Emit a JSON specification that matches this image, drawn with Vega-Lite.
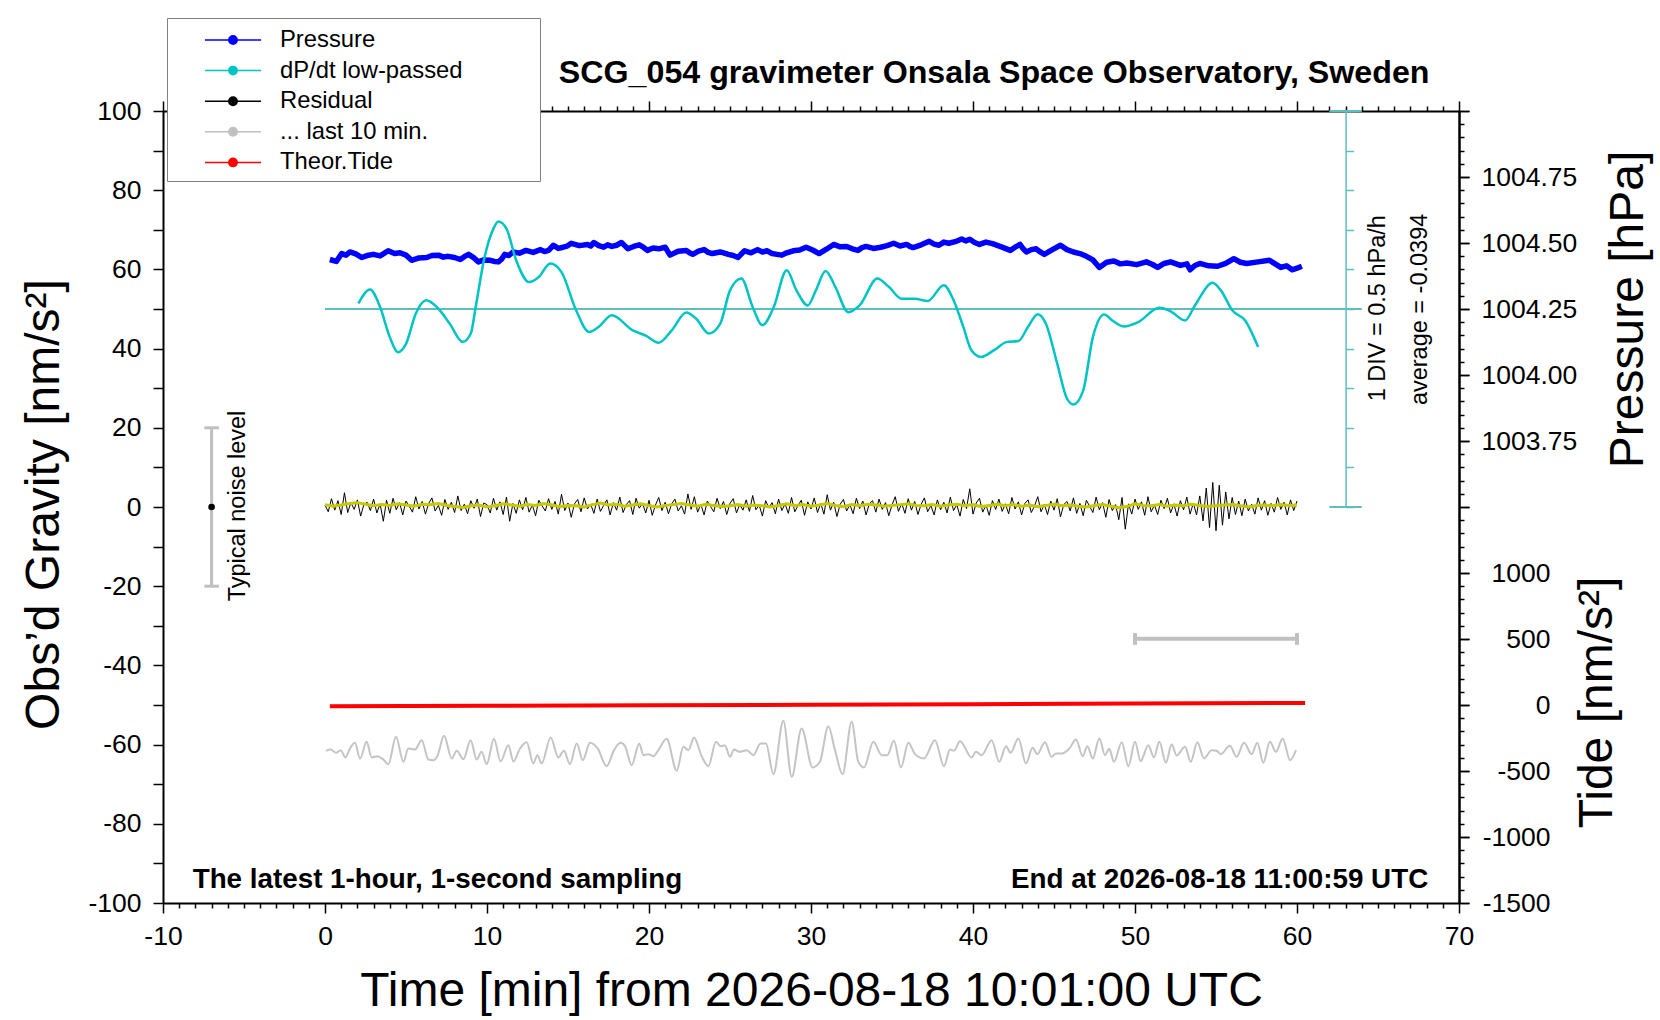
{
  "$schema": "https://vega.github.io/schema/vega-lite/v6.json",
  "width": 1296,
  "height": 792,
  "autosize": {"type": "none"},
  "padding": {"left": 163, "top": 111, "right": 201, "bottom": 117},
  "background": "#ffffff",
  "config": {
    "font": "Liberation Sans",
    "view": {"stroke": null},
    "axis": {
      "grid": false,
      "domainColor": "#000000",
      "domainWidth": 2,
      "tickColor": "#000000",
      "tickWidth": 1.5,
      "labelColor": "#000000",
      "labelFont": "Liberation Sans",
      "labelFontSize": 26.5,
      "labelOverlap": false,
      "labelFlush": false,
      "titleFont": "Liberation Sans",
      "titleFontSize": 48,
      "titleFontWeight": "normal",
      "titleColor": "#000000"
    },
    "text": {"font": "Liberation Sans", "color": "#000000"}
  },
  "datasets": {
    "res": [
      {"t":0,"r":0.5},{"t":0.2,"r":-1.2},{"t":0.4,"r":2.1},{"t":0.6,"r":-0.8},{"t":0.8,"r":1.6},{"t":1,"r":-1.9},{"t":1.2,"r":3.6},{"t":1.4,"r":-1.4},{"t":1.6,"r":1.1},{"t":1.8,"r":-0.6},
      {"t":2,"r":1.8},{"t":2.2,"r":-2.3},{"t":2.4,"r":0.6},{"t":2.6,"r":1.2},{"t":2.8,"r":-0.9},{"t":3,"r":2.0},{"t":3.2,"r":-1.5},{"t":3.4,"r":0.8},{"t":3.6,"r":-3.6},{"t":3.8,"r":1.7},
      {"t":4,"r":-1.6},{"t":4.2,"r":2.2},{"t":4.4,"r":-0.7},{"t":4.6,"r":1.1},{"t":4.8,"r":-2.0},{"t":5,"r":1.5},{"t":5.2,"r":0.2},{"t":5.4,"r":-1.3},{"t":5.6,"r":2.6},{"t":5.8,"r":-0.5},
      {"t":6,"r":1.4},{"t":6.2,"r":-1.8},{"t":6.4,"r":0.9},{"t":6.6,"r":2.3},{"t":6.8,"r":-1.0},{"t":7,"r":0.4},{"t":7.2,"r":-2.1},{"t":7.4,"r":1.9},{"t":7.6,"r":-0.6},{"t":7.8,"r":1.2},
      {"t":8,"r":-1.4},{"t":8.2,"r":2.8},{"t":8.4,"r":-0.9},{"t":8.6,"r":0.7},{"t":8.8,"r":-1.7},{"t":9,"r":1.6},{"t":9.2,"r":-0.3},{"t":9.4,"r":2.0},{"t":9.6,"r":-2.4},{"t":9.8,"r":1.0},
      {"t":10,"r":0.6},{"t":10.2,"r":-1.5},{"t":10.4,"r":2.2},{"t":10.6,"r":-0.8},{"t":10.8,"r":1.3},{"t":11,"r":-1.9},{"t":11.2,"r":2.5},{"t":11.4,"r":-3.6},{"t":11.6,"r":0.9},{"t":11.8,"r":-1.6},
      {"t":12,"r":1.8},{"t":12.2,"r":-0.7},{"t":12.4,"r":2.4},{"t":12.6,"r":-1.3},{"t":12.8,"r":0.5},{"t":13,"r":-2.2},{"t":13.2,"r":1.7},{"t":13.4,"r":0.3},{"t":13.6,"r":-1.0},{"t":13.8,"r":2.1},
      {"t":14,"r":-0.6},{"t":14.2,"r":1.4},{"t":14.4,"r":-1.8},{"t":14.6,"r":3.2},{"t":14.8,"r":-0.9},{"t":15,"r":1.0},{"t":15.2,"r":-2.6},{"t":15.4,"r":0.8},{"t":15.6,"r":1.9},{"t":15.8,"r":-1.2},
      {"t":16,"r":2.3},{"t":16.2,"r":-0.5},{"t":16.4,"r":0.7},{"t":16.6,"r":-1.6},{"t":16.8,"r":2.0},{"t":17,"r":-1.1},{"t":17.2,"r":0.4},{"t":17.4,"r":1.8},{"t":17.6,"r":-2.0},{"t":17.8,"r":1.1},
      {"t":18,"r":-0.8},{"t":18.2,"r":2.5},{"t":18.4,"r":-1.4},{"t":18.6,"r":0.6},{"t":18.8,"r":1.6},{"t":19,"r":-1.9},{"t":19.2,"r":2.2},{"t":19.4,"r":-0.3},{"t":19.6,"r":0.9},{"t":19.8,"r":-1.5},
      {"t":20,"r":1.7},{"t":20.2,"r":-2.1},{"t":20.4,"r":0.5},{"t":20.6,"r":2.4},{"t":20.8,"r":-0.9},{"t":21,"r":1.2},{"t":21.2,"r":-1.7},{"t":21.4,"r":0.8},{"t":21.6,"r":2.0},{"t":21.8,"r":-1.0},
      {"t":22,"r":0.3},{"t":22.2,"r":-1.8},{"t":22.4,"r":3.3},{"t":22.6,"r":-0.6},{"t":22.8,"r":2.6},{"t":23,"r":-1.3},{"t":23.2,"r":0.7},{"t":23.4,"r":-2.0},{"t":23.6,"r":1.5},{"t":23.8,"r":0.1},
      {"t":24,"r":-1.2},{"t":24.2,"r":2.2},{"t":24.4,"r":-0.4},{"t":24.6,"r":1.4},{"t":24.8,"r":-1.9},{"t":25,"r":0.9},{"t":25.2,"r":2.1},{"t":25.4,"r":-1.5},{"t":25.6,"r":0.6},{"t":25.8,"r":-0.8},
      {"t":26,"r":1.8},{"t":26.2,"r":-1.1},{"t":26.4,"r":2.9},{"t":26.6,"r":-0.7},{"t":26.8,"r":0.5},{"t":27,"r":-2.3},{"t":27.2,"r":1.6},{"t":27.4,"r":-0.2},{"t":27.6,"r":1.1},{"t":27.8,"r":-1.7},
      {"t":28,"r":2.0},{"t":28.2,"r":-0.9},{"t":28.4,"r":0.8},{"t":28.6,"r":-1.6},{"t":28.8,"r":2.4},{"t":29,"r":-1.2},{"t":29.2,"r":0.4},{"t":29.4,"r":1.7},{"t":29.6,"r":-2.1},{"t":29.8,"r":1.3},
      {"t":30,"r":-0.5},{"t":30.2,"r":2.3},{"t":30.4,"r":-1.4},{"t":30.6,"r":0.9},{"t":30.8,"r":-1.8},{"t":31,"r":3.1},{"t":31.2,"r":-0.8},{"t":31.4,"r":1.2},{"t":31.6,"r":-2.4},{"t":31.8,"r":0.7},
      {"t":32,"r":1.9},{"t":32.2,"r":-1.0},{"t":32.4,"r":0.6},{"t":32.6,"r":-1.7},{"t":32.8,"r":2.2},{"t":33,"r":-0.4},{"t":33.2,"r":1.5},{"t":33.4,"r":-2.0},{"t":33.6,"r":0.8},{"t":33.8,"r":1.6},
      {"t":34,"r":-1.3},{"t":34.2,"r":2.0},{"t":34.4,"r":-0.6},{"t":34.6,"r":1.1},{"t":34.8,"r":-2.2},{"t":35,"r":0.5},{"t":35.2,"r":2.6},{"t":35.4,"r":-1.1},{"t":35.6,"r":0.9},{"t":35.8,"r":-1.6},
      {"t":36,"r":2.1},{"t":36.2,"r":-0.8},{"t":36.4,"r":1.4},{"t":36.6,"r":-1.9},{"t":36.8,"r":0.7},{"t":37,"r":2.3},{"t":37.2,"r":-1.2},{"t":37.4,"r":0.4},{"t":37.6,"r":-2.0},{"t":37.8,"r":1.8},
      {"t":38,"r":-0.7},{"t":38.2,"r":1.2},{"t":38.4,"r":-1.5},{"t":38.6,"r":2.5},{"t":38.8,"r":-0.9},{"t":39,"r":0.6},{"t":39.2,"r":-2.3},{"t":39.4,"r":1.9},{"t":39.6,"r":-0.4},{"t":39.8,"r":4.6},
      {"t":40,"r":-1.8},{"t":40.2,"r":1.0},{"t":40.4,"r":2.2},{"t":40.6,"r":-1.3},{"t":40.8,"r":0.5},{"t":41,"r":-2.1},{"t":41.2,"r":1.6},{"t":41.4,"r":-0.6},{"t":41.6,"r":2.0},{"t":41.8,"r":-1.1},
      {"t":42,"r":0.8},{"t":42.2,"r":-1.7},{"t":42.4,"r":2.4},{"t":42.6,"r":-0.5},{"t":42.8,"r":1.3},{"t":43,"r":-2.0},{"t":43.2,"r":0.9},{"t":43.4,"r":1.8},{"t":43.6,"r":-1.4},{"t":43.8,"r":0.3},
      {"t":44,"r":2.6},{"t":44.2,"r":-1.2},{"t":44.4,"r":0.7},{"t":44.6,"r":-1.9},{"t":44.8,"r":1.5},{"t":45,"r":-0.8},{"t":45.2,"r":2.1},{"t":45.4,"r":-2.5},{"t":45.6,"r":0.6},{"t":45.8,"r":1.4},
      {"t":46,"r":-1.0},{"t":46.2,"r":2.3},{"t":46.4,"r":-1.6},{"t":46.6,"r":0.9},{"t":46.8,"r":-2.2},{"t":47,"r":1.7},{"t":47.2,"r":0.2},{"t":47.4,"r":-1.4},{"t":47.6,"r":2.5},{"t":47.8,"r":-0.7},
      {"t":48,"r":1.1},{"t":48.2,"r":-2.6},{"t":48.4,"r":1.9},{"t":48.6,"r":-0.9},{"t":48.8,"r":0.6},{"t":49,"r":-3.2},{"t":49.2,"r":2.4},{"t":49.4,"r":-5.6},{"t":49.6,"r":0.8},{"t":49.8,"r":-1.8},
      {"t":50,"r":2.0},{"t":50.2,"r":-0.6},{"t":50.4,"r":1.3},{"t":50.6,"r":-2.1},{"t":50.8,"r":2.6},{"t":51,"r":-1.2},{"t":51.2,"r":0.5},{"t":51.4,"r":-1.9},{"t":51.6,"r":1.7},{"t":51.8,"r":-0.4},
      {"t":52,"r":2.2},{"t":52.2,"r":-1.5},{"t":52.4,"r":0.8},{"t":52.6,"r":-2.3},{"t":52.8,"r":1.6},{"t":53,"r":-0.7},{"t":53.2,"r":2.5},{"t":53.4,"r":-1.8},{"t":53.6,"r":1.0},{"t":53.8,"r":-2.0},
      {"t":54,"r":2.8},{"t":54.2,"r":-3.5},{"t":54.4,"r":4.8},{"t":54.6,"r":-5.2},{"t":54.8,"r":6.2},{"t":55,"r":-6.0},{"t":55.2,"r":5.5},{"t":55.4,"r":-4.6},{"t":55.6,"r":3.8},{"t":55.8,"r":-3.0},
      {"t":56,"r":2.4},{"t":56.2,"r":-1.9},{"t":56.4,"r":1.5},{"t":56.6,"r":-2.2},{"t":56.8,"r":2.0},{"t":57,"r":-1.0},{"t":57.2,"r":0.7},{"t":57.4,"r":-1.8},{"t":57.6,"r":2.3},{"t":57.8,"r":-0.8},
      {"t":58,"r":1.6},{"t":58.2,"r":-2.1},{"t":58.4,"r":0.9},{"t":58.6,"r":-1.3},{"t":58.8,"r":2.4},{"t":59,"r":-0.6},{"t":59.2,"r":1.2},{"t":59.4,"r":-2.0},{"t":59.6,"r":1.8},{"t":59.8,"r":-0.9},
      {"t":60,"r":1.5}
    ],
    "smooth": [
      {"t":0,"s":0.6},{"t":0.5,"s":0.2},{"t":1,"s":0.5},{"t":1.5,"s":0.9},{"t":2,"s":1.1},{"t":2.5,"s":0.7},{"t":3,"s":0.3},{"t":3.5,"s":0.6},{"t":4,"s":0.4},{"t":4.5,"s":0.8},
      {"t":5,"s":0.5},{"t":5.5,"s":0.2},{"t":6,"s":0.7},{"t":6.5,"s":0.6},{"t":7,"s":0.9},{"t":7.5,"s":0.4},{"t":8,"s":0.1},{"t":8.5,"s":-0.1},{"t":9,"s":0.3},{"t":9.5,"s":0.5},
      {"t":10,"s":0.0},{"t":10.5,"s":0.3},{"t":11,"s":0.8},{"t":11.5,"s":0.5},{"t":12,"s":0.2},{"t":12.5,"s":0.6},{"t":13,"s":0.4},{"t":13.5,"s":0.9},{"t":14,"s":0.5},{"t":14.5,"s":0.1},
      {"t":15,"s":0.4},{"t":15.5,"s":0.3},{"t":16,"s":0.0},{"t":16.5,"s":0.6},{"t":17,"s":1.0},{"t":17.5,"s":0.5},{"t":18,"s":0.7},{"t":18.5,"s":0.2},{"t":19,"s":0.5},{"t":19.5,"s":0.8},
      {"t":20,"s":0.3},{"t":20.5,"s":0.0},{"t":21,"s":0.4},{"t":21.5,"s":0.6},{"t":22,"s":0.9},{"t":22.5,"s":0.5},{"t":23,"s":0.2},{"t":23.5,"s":0.7},{"t":24,"s":0.4},{"t":24.5,"s":0.1},
      {"t":25,"s":0.3},{"t":25.5,"s":0.6},{"t":26,"s":0.2},{"t":26.5,"s":0.5},{"t":27,"s":0.3},{"t":27.5,"s":0.0},{"t":28,"s":0.4},{"t":28.5,"s":0.8},{"t":29,"s":0.3},{"t":29.5,"s":0.6},
      {"t":30,"s":0.2},{"t":30.5,"s":0.5},{"t":31,"s":0.9},{"t":31.5,"s":0.4},{"t":32,"s":0.1},{"t":32.5,"s":0.6},{"t":33,"s":0.3},{"t":33.5,"s":0.7},{"t":34,"s":0.5},{"t":34.5,"s":0.2},
      {"t":35,"s":0.4},{"t":35.5,"s":0.6},{"t":36,"s":0.8},{"t":36.5,"s":0.4},{"t":37,"s":0.3},{"t":37.5,"s":0.6},{"t":38,"s":0.2},{"t":38.5,"s":0.5},{"t":39,"s":0.7},{"t":39.5,"s":0.3},
      {"t":40,"s":0.6},{"t":40.5,"s":0.1},{"t":41,"s":0.4},{"t":41.5,"s":0.7},{"t":42,"s":0.3},{"t":42.5,"s":0.6},{"t":43,"s":0.2},{"t":43.5,"s":0.5},{"t":44,"s":0.1},{"t":44.5,"s":0.4},
      {"t":45,"s":0.7},{"t":45.5,"s":0.3},{"t":46,"s":0.5},{"t":46.5,"s":0.2},{"t":47,"s":0.0},{"t":47.5,"s":0.4},{"t":48,"s":0.6},{"t":48.5,"s":0.2},{"t":49,"s":-0.2},{"t":49.5,"s":0.1},
      {"t":50,"s":0.8},{"t":50.5,"s":0.4},{"t":51,"s":0.3},{"t":51.5,"s":0.6},{"t":52,"s":0.2},{"t":52.5,"s":0.5},{"t":53,"s":0.3},{"t":53.5,"s":0.7},{"t":54,"s":0.4},{"t":54.5,"s":0.1},
      {"t":55,"s":0.3},{"t":55.5,"s":0.5},{"t":56,"s":0.6},{"t":56.5,"s":0.3},{"t":57,"s":0.0},{"t":57.5,"s":0.4},{"t":58,"s":0.5},{"t":58.5,"s":0.3},{"t":59,"s":0.6},{"t":59.5,"s":0.4},
      {"t":60,"s":0.5}
    ],
    "hp": [
      {"t":0.06,"g":-61.57},{"t":0.35,"g":-61.23},{"t":0.68,"g":-62.07},{"t":0.97,"g":-61.4},{"t":1.26,"g":-63.25},{"t":1.54,"g":-60.98},{"t":1.85,"g":-59.55},{"t":2.16,"g":-63.51},{"t":2.57,"g":-59.29},{"t":2.88,"g":-63.25},
      {"t":3.23,"g":-62.92},{"t":3.6,"g":-63.76},{"t":3.91,"g":-64.94},{"t":4.38,"g":-58.03},{"t":4.84,"g":-64.35},{"t":5.14,"g":-60.98},{"t":5.56,"g":-61.23},{"t":5.97,"g":-58.87},{"t":6.38,"g":-63.76},{"t":6.69,"g":-63.93},
      {"t":6.93,"g":-62.92},{"t":7.35,"g":-57.78},{"t":7.82,"g":-63.51},{"t":8.13,"g":-61.57},{"t":8.54,"g":-63.67},{"t":8.99,"g":-58.87},{"t":9.36,"g":-63.76},{"t":9.67,"g":-61.82},{"t":9.98,"g":-64.94},{"t":10.43,"g":-58.54},
      {"t":10.84,"g":-64.26},{"t":11.32,"g":-60.14},{"t":11.63,"g":-64.26},{"t":12.04,"g":-60.98},{"t":12.45,"g":-59.38},{"t":12.86,"g":-64.77},{"t":13.11,"g":-62.66},{"t":13.37,"g":-64.77},{"t":13.93,"g":-58.2},{"t":14.4,"g":-63.25},
      {"t":14.75,"g":-61.57},{"t":15.12,"g":-64.94},{"t":15.54,"g":-59.72},{"t":15.91,"g":-63.93},{"t":16.36,"g":-59.55},{"t":16.83,"g":-60.98},{"t":17.39,"g":-65.44},{"t":17.84,"g":-61.4},{"t":18.25,"g":-59.55},{"t":18.52,"g":-60.39},
      {"t":18.93,"g":-65.19},{"t":19.4,"g":-59.72},{"t":19.65,"g":-62.66},{"t":19.96,"g":-62.41},{"t":20.27,"g":-62.92},{"t":20.58,"g":-61.4},{"t":21.09,"g":-58.54},{"t":21.71,"g":-66.62},{"t":22.12,"g":-60.56},{"t":22.43,"g":-61.4},
      {"t":22.78,"g":-58.2},{"t":23.25,"g":-62.92},{"t":23.66,"g":-65.44},{"t":24.14,"g":-59.29},{"t":24.42,"g":-60.39},{"t":24.69,"g":-60.22},{"t":25.0,"g":-63.08},{"t":25.25,"g":-61.23},{"t":25.58,"g":-61.82},{"t":26.03,"g":-61.4},
      {"t":26.44,"g":-62.66},{"t":26.89,"g":-59.72},{"t":27.22,"g":-59.72},{"t":27.68,"g":-67.46},{"t":28.29,"g":-53.99},{"t":28.81,"g":-68.14},{"t":29.42,"g":-55.93},{"t":30.1,"g":-65.78},{"t":30.55,"g":-64.35},{"t":31.07,"g":-55.34},
      {"t":31.48,"g":-61.4},{"t":31.95,"g":-67.46},{"t":32.51,"g":-54.24},{"t":32.92,"g":-64.35},{"t":33.27,"g":-65.78},{"t":33.85,"g":-59.29},{"t":34.36,"g":-62.66},{"t":34.71,"g":-62.66},{"t":35.12,"g":-59.04},{"t":35.55,"g":-65.78},
      {"t":36.01,"g":-59.55},{"t":36.42,"g":-62.41},{"t":36.97,"g":-63.51},{"t":37.65,"g":-58.87},{"t":38.21,"g":-65.44},{"t":38.58,"g":-61.23},{"t":38.83,"g":-61.57},{"t":39.2,"g":-59.13},{"t":39.92,"g":-63.25},{"t":40.18,"g":-61.82},
      {"t":40.53,"g":-62.66},{"t":41.15,"g":-58.87},{"t":41.62,"g":-64.35},{"t":42.04,"g":-60.39},{"t":42.32,"g":-62.07},{"t":42.8,"g":-58.45},{"t":43.27,"g":-64.77},{"t":43.68,"g":-60.81},{"t":43.97,"g":-62.41},{"t":44.44,"g":-59.38},
      {"t":44.85,"g":-63.08},{"t":45.12,"g":-62.24},{"t":45.47,"g":-62.24},{"t":45.95,"g":-60.98},{"t":46.36,"g":-58.71},{"t":46.77,"g":-62.92},{"t":47.06,"g":-60.39},{"t":47.39,"g":-63.51},{"t":47.8,"g":-58.45},{"t":48.15,"g":-62.66},
      {"t":48.41,"g":-61.06},{"t":48.7,"g":-64.35},{"t":49.18,"g":-59.38},{"t":49.59,"g":-65.44},{"t":50.0,"g":-59.29},{"t":50.35,"g":-64.18},{"t":50.82,"g":-60.14},{"t":51.17,"g":-63.25},{"t":51.5,"g":-59.29},{"t":51.91,"g":-64.6},
      {"t":52.26,"g":-59.88},{"t":52.57,"g":-62.75},{"t":53.09,"g":-60.56},{"t":53.44,"g":-64.35},{"t":53.85,"g":-59.38},{"t":54.26,"g":-63.51},{"t":54.73,"g":-61.4},{"t":55.04,"g":-61.57},{"t":55.29,"g":-62.41},{"t":55.86,"g":-60.31},
      {"t":56.27,"g":-63.08},{"t":56.73,"g":-59.55},{"t":57.2,"g":-62.41},{"t":57.55,"g":-59.55},{"t":57.92,"g":-64.6},{"t":58.33,"g":-59.29},{"t":58.7,"g":-61.82},{"t":59.12,"g":-58.45},{"t":59.57,"g":-63.93},{"t":59.94,"g":-61.4}
    ],
    "pres": [
      {"t":0.3,"p":1004.4375},{"t":0.7,"p":1004.43},{"t":1.03,"p":1004.46},{"t":1.3,"p":1004.454},{"t":1.54,"p":1004.466},{"t":1.9,"p":1004.4585},{"t":2.26,"p":1004.445},{"t":2.6,"p":1004.4525},{"t":2.98,"p":1004.457},{"t":3.4,"p":1004.451},
      {"t":3.9,"p":1004.4705},{"t":4.3,"p":1004.46},{"t":4.63,"p":1004.463},{"t":5.0,"p":1004.454},{"t":5.35,"p":1004.4345},{"t":5.8,"p":1004.4435},{"t":6.28,"p":1004.445},{"t":6.6,"p":1004.4525},{"t":7.0,"p":1004.454},{"t":7.3,"p":1004.4465},
      {"t":7.6,"p":1004.4495},{"t":8.0,"p":1004.445},{"t":8.35,"p":1004.4375},{"t":8.6,"p":1004.448},{"t":8.86,"p":1004.457},{"t":9.2,"p":1004.4435},{"t":9.47,"p":1004.4285},{"t":9.8,"p":1004.436},{"t":10.2,"p":1004.4345},{"t":10.45,"p":1004.43},
      {"t":10.7,"p":1004.4285},{"t":10.9,"p":1004.439},{"t":11.1,"p":1004.457},{"t":11.35,"p":1004.4525},{"t":11.6,"p":1004.466},{"t":12.0,"p":1004.4615},{"t":12.4,"p":1004.472},{"t":12.85,"p":1004.4645},{"t":13.3,"p":1004.475},{"t":13.55,"p":1004.4675},
      {"t":13.8,"p":1004.472},{"t":14.1,"p":1004.4915},{"t":14.4,"p":1004.4795},{"t":14.7,"p":1004.484},{"t":14.95,"p":1004.4885},{"t":15.2,"p":1004.499},{"t":15.7,"p":1004.49},{"t":16.2,"p":1004.4945},{"t":16.4,"p":1004.4885},{"t":16.6,"p":1004.502},
      {"t":16.9,"p":1004.49},{"t":17.2,"p":1004.484},{"t":17.45,"p":1004.493},{"t":17.7,"p":1004.487},{"t":18.0,"p":1004.4915},{"t":18.3,"p":1004.502},{"t":18.5,"p":1004.49},{"t":18.7,"p":1004.478},{"t":19.05,"p":1004.487},{"t":19.4,"p":1004.493},
      {"t":19.65,"p":1004.484},{"t":19.9,"p":1004.472},{"t":20.25,"p":1004.481},{"t":20.6,"p":1004.478},{"t":21.0,"p":1004.484},{"t":21.15,"p":1004.469},{"t":21.3,"p":1004.454},{"t":21.8,"p":1004.469},{"t":22.3,"p":1004.472},{"t":22.5,"p":1004.463},
      {"t":22.7,"p":1004.457},{"t":23.05,"p":1004.469},{"t":23.4,"p":1004.475},{"t":23.65,"p":1004.4645},{"t":23.9,"p":1004.46},{"t":24.4,"p":1004.466},{"t":24.9,"p":1004.457},{"t":25.2,"p":1004.4525},{"t":25.5,"p":1004.445},{"t":25.7,"p":1004.4585},
      {"t":25.9,"p":1004.4705},{"t":26.3,"p":1004.463},{"t":26.7,"p":1004.475},{"t":27.0,"p":1004.466},{"t":27.3,"p":1004.4705},{"t":27.6,"p":1004.46},{"t":27.9,"p":1004.457},{"t":28.2,"p":1004.454},{"t":28.5,"p":1004.463},{"t":28.9,"p":1004.4705},
      {"t":29.3,"p":1004.4735},{"t":29.7,"p":1004.484},{"t":30.1,"p":1004.4735},{"t":30.5,"p":1004.46},{"t":30.95,"p":1004.4765},{"t":31.4,"p":1004.4945},{"t":31.8,"p":1004.4855},{"t":32.2,"p":1004.487},{"t":32.55,"p":1004.478},{"t":32.9,"p":1004.472},
      {"t":33.15,"p":1004.4825},{"t":33.4,"p":1004.487},{"t":33.85,"p":1004.4795},{"t":34.3,"p":1004.484},{"t":34.7,"p":1004.49},{"t":35.1,"p":1004.499},{"t":35.5,"p":1004.4885},{"t":35.9,"p":1004.4945},{"t":36.1,"p":1004.487},{"t":36.3,"p":1004.4825},
      {"t":36.8,"p":1004.493},{"t":37.3,"p":1004.5065},{"t":37.6,"p":1004.496},{"t":37.9,"p":1004.4915},{"t":38.2,"p":1004.5035},{"t":38.5,"p":1004.499},{"t":38.9,"p":1004.505},{"t":39.3,"p":1004.5155},{"t":39.55,"p":1004.508},{"t":39.8,"p":1004.514},
      {"t":40.1,"p":1004.502},{"t":40.4,"p":1004.4945},{"t":40.8,"p":1004.5035},{"t":41.2,"p":1004.4975},{"t":41.75,"p":1004.4855},{"t":42.3,"p":1004.472},{"t":42.6,"p":1004.484},{"t":42.9,"p":1004.4945},{"t":43.1,"p":1004.478},{"t":43.3,"p":1004.466},
      {"t":43.6,"p":1004.475},{"t":43.9,"p":1004.478},{"t":44.15,"p":1004.466},{"t":44.4,"p":1004.457},{"t":44.9,"p":1004.475},{"t":45.4,"p":1004.4915},{"t":45.8,"p":1004.475},{"t":46.2,"p":1004.466},{"t":46.6,"p":1004.46},{"t":47.0,"p":1004.4495},
      {"t":47.4,"p":1004.436},{"t":47.8,"p":1004.4075},{"t":48.25,"p":1004.427},{"t":48.7,"p":1004.4315},{"t":49.1,"p":1004.421},{"t":49.5,"p":1004.424},{"t":50.1,"p":1004.418},{"t":50.7,"p":1004.4285},{"t":51.05,"p":1004.4195},{"t":51.4,"p":1004.4075},
      {"t":51.8,"p":1004.4225},{"t":52.2,"p":1004.4285},{"t":52.8,"p":1004.415},{"t":53.2,"p":1004.421},{"t":53.4,"p":1004.3985},{"t":53.7,"p":1004.415},{"t":54.0,"p":1004.4225},{"t":54.55,"p":1004.4135},{"t":55.1,"p":1004.412},{"t":55.6,"p":1004.4225},
      {"t":56.1,"p":1004.4405},{"t":56.5,"p":1004.427},{"t":56.9,"p":1004.4225},{"t":57.6,"p":1004.4285},{"t":58.3,"p":1004.4345},{"t":58.65,"p":1004.421},{"t":59.0,"p":1004.4075},{"t":59.35,"p":1004.4135},{"t":59.7,"p":1004.3985},{"t":60.0,"p":1004.4045},
      {"t":60.3,"p":1004.412}
    ],
    "dpdt": [
      {"t":2.06,"d":0.07},{"t":2.78,"d":0.245},{"t":3.4,"d":0.025},{"t":4.0,"d":-0.355},{"t":4.5,"d":-0.545},{"t":5.0,"d":-0.44},{"t":5.6,"d":-0.06},{"t":6.25,"d":0.11},{"t":6.9,"d":0.025},{"t":7.7,"d":-0.185},
      {"t":8.5,"d":-0.415},{"t":9.0,"d":-0.31},{"t":9.3,"d":0.025},{"t":9.85,"d":0.655},{"t":10.4,"d":1.015},{"t":10.7,"d":1.105},{"t":11.2,"d":1.015},{"t":11.8,"d":0.615},{"t":12.6,"d":0.34},{"t":13.2,"d":0.405},
      {"t":13.9,"d":0.575},{"t":14.6,"d":0.465},{"t":15.5,"d":-0.015},{"t":16.3,"d":-0.29},{"t":16.9,"d":-0.225},{"t":17.7,"d":-0.08},{"t":19.0,"d":-0.27},{"t":19.8,"d":-0.335},{"t":20.6,"d":-0.425},{"t":21.4,"d":-0.27},
      {"t":22.3,"d":-0.045},{"t":22.9,"d":-0.12},{"t":23.7,"d":-0.31},{"t":24.4,"d":-0.185},{"t":25.0,"d":0.235},{"t":25.7,"d":0.385},{"t":26.4,"d":0.025},{"t":27.0,"d":-0.205},{"t":27.7,"d":0.025},{"t":28.5,"d":0.49},
      {"t":29.1,"d":0.235},{"t":29.8,"d":0.045},{"t":30.3,"d":0.235},{"t":30.9,"d":0.48},{"t":31.5,"d":0.28},{"t":32.3,"d":-0.04},{"t":33.0,"d":0.045},{"t":34.1,"d":0.385},{"t":34.8,"d":0.28},{"t":35.6,"d":0.13},
      {"t":36.4,"d":0.13},{"t":37.2,"d":0.1},{"t":38.2,"d":0.3},{"t":38.8,"d":0.11},{"t":39.4,"d":-0.225},{"t":39.9,"d":-0.52},{"t":40.5,"d":-0.605},{"t":41.3,"d":-0.52},{"t":42.1,"d":-0.415},{"t":42.8,"d":-0.405},
      {"t":43.4,"d":-0.225},{"t":44.0,"d":-0.065},{"t":44.5,"d":-0.185},{"t":45.2,"d":-0.69},{"t":45.8,"d":-1.13},{"t":46.2,"d":-1.205},{"t":46.8,"d":-1.03},{"t":47.4,"d":-0.355},{"t":48.1,"d":-0.07},{"t":48.6,"d":-0.145},
      {"t":49.3,"d":-0.22},{"t":50.2,"d":-0.165},{"t":51.5,"d":0.015},{"t":52.2,"d":-0.03},{"t":53.1,"d":-0.145},{"t":53.7,"d":0.045},{"t":54.8,"d":0.33},{"t":55.3,"d":0.235},{"t":56.0,"d":-0.015},{"t":56.8,"d":-0.145},
      {"t":57.6,"d":-0.48}
    ],
    "tide": [
      {"t":0.3,"tide":-10},{"t":10,"tide":-6},{"t":20,"tide":-2},{"t":30,"tide":2},{"t":40,"tide":6},{"t":50,"tide":11},{"t":60.5,"tide":16}
    ]
  },
  "layer": [
    {
      "data": {"name": "hp"},
      "mark": {"type": "line", "color": "#c4c4c4", "strokeWidth": 2, "interpolate": "monotone"},
      "encoding": {
        "x": {"field": "t", "type": "quantitative", "scale": {"domain": [-10, 70]}, "axis": null},
        "y": {"field": "g", "type": "quantitative", "scale": {"domain": [-100, 100]}, "axis": null}
      }
    },
    {
      "data": {"name": "res"},
      "mark": {"type": "line", "strokeWidth": 1},
      "encoding": {
        "x": {
          "field": "t", "type": "quantitative", "scale": {"domain": [-10, 70]},
          "axis": {
            "orient": "bottom",
            "values": [-10,-9,-8,-7,-6,-5,-4,-3,-2,-1,0,1,2,3,4,5,6,7,8,9,10,11,12,13,14,15,16,17,18,19,20,21,22,23,24,25,26,27,28,29,30,31,32,33,34,35,36,37,38,39,40,41,42,43,44,45,46,47,48,49,50,51,52,53,54,55,56,57,58,59,60,61,62,63,64,65,66,67,68,69,70],
            "tickSize": {"condition": {"test": "datum.value % 10 === 0", "value": 10}, "value": 5},
            "labelExpr": "datum.value % 10 === 0 ? '' + datum.value : ''",
            "labelPadding": 10,
            "title": "Time [min] from 2026-08-18 10:01:00 UTC",
            "titleY": 88,
            "titleBaseline": "middle"
          }
        },
        "y": {
          "field": "r", "type": "quantitative", "scale": {"domain": [-100, 100]},
          "axis": {
            "orient": "left",
            "values": [-100,-90,-80,-70,-60,-50,-40,-30,-20,-10,0,10,20,30,40,50,60,70,80,90,100],
            "tickSize": 10,
            "labelPadding": 12,
            "labelExpr": "datum.value % 20 === 0 ? '' + datum.value : ''",
            "title": "Obs’d Gravity [nm/s²]",
            "titleAngle": 270,
            "titleX": -119,
            "titleY": 393,
            "titleAlign": "center",
            "titleBaseline": "middle"
          }
        },
        "color": {
          "datum": "Residual",
          "type": "nominal",
          "scale": {
            "domain": ["Pressure", "dP/dt low-passed", "Residual", "... last 10 min.", "Theor.Tide"],
            "range": ["#0000ff", "#00c4c4", "#000000", "#c0c0c0", "#ff0000"]
          },
          "legend": {
            "orient": "none",
            "legendX": 4,
            "legendY": -93,
            "title": "xxxxxx",
            "titleOrient": "right",
            "titleOpacity": 0,
            "titleFontSize": 19.5,
            "titlePadding": 5,
            "padding": 6,
            "fillColor": "#ffffff",
            "strokeColor": "#808080",
            "symbolType": "M-1.87,0H1.87M0.28,0A0.28,0.28,0,1,1,-0.28,0A0.28,0.28,0,1,1,0.28,0M0.18,0A0.18,0.18,0,1,1,-0.18,0A0.18,0.18,0,1,1,0.18,0M0.08,0A0.08,0.08,0,1,1,-0.08,0A0.08,0.08,0,1,1,0.08,0",
            "symbolSize": 900,
            "symbolStrokeWidth": 1.5,
            "symbolOffset": 44,
            "labelOffset": 31,
            "rowPadding": 2.6,
            "labelFont": "Liberation Sans",
            "labelFontSize": 23.8,
            "labelColor": "#000000",
            "labelLimit": 500
          }
        }
      }
    },
    {
      "data": {"name": "smooth"},
      "mark": {"type": "line", "color": "#c8c800", "strokeWidth": 3},
      "encoding": {
        "x": {"field": "t", "type": "quantitative", "scale": {"domain": [-10, 70]}, "axis": null},
        "y": {"field": "s", "type": "quantitative", "scale": {"domain": [-100, 100]}, "axis": null}
      }
    },
    {
      "data": {"values": [{}]},
      "mark": {"type": "rule", "color": "#c0c0c0", "strokeWidth": 3},
      "encoding": {
        "x": {"datum": -7, "type": "quantitative", "scale": {"domain": [-10, 70]}, "axis": null},
        "y": {"datum": -20, "type": "quantitative", "scale": {"domain": [-100, 100]}, "axis": null},
        "y2": {"datum": 20}
      }
    },
    {
      "data": {"values": [{}]},
      "mark": {"type": "rule", "color": "#c0c0c0", "strokeWidth": 3},
      "encoding": {
        "x": {"datum": -7.45, "type": "quantitative", "scale": {"domain": [-10, 70]}, "axis": null},
        "x2": {"datum": -6.55},
        "y": {"datum": 20, "type": "quantitative", "scale": {"domain": [-100, 100]}, "axis": null}
      }
    },
    {
      "data": {"values": [{}]},
      "mark": {"type": "rule", "color": "#c0c0c0", "strokeWidth": 3},
      "encoding": {
        "x": {"datum": -7.45, "type": "quantitative", "scale": {"domain": [-10, 70]}, "axis": null},
        "x2": {"datum": -6.55},
        "y": {"datum": -20, "type": "quantitative", "scale": {"domain": [-100, 100]}, "axis": null}
      }
    },
    {
      "data": {"values": [{}]},
      "mark": {"type": "point", "filled": true, "color": "#000000", "size": 45, "opacity": 1},
      "encoding": {
        "x": {"datum": -7, "type": "quantitative", "scale": {"domain": [-10, 70]}, "axis": null},
        "y": {"datum": 0, "type": "quantitative", "scale": {"domain": [-100, 100]}, "axis": null}
      }
    },
    {
      "data": {"values": [{}]},
      "mark": {"type": "rule", "color": "#c0c0c0", "strokeWidth": 4},
      "encoding": {
        "x": {"datum": 50, "type": "quantitative", "scale": {"domain": [-10, 70]}, "axis": null},
        "x2": {"datum": 60},
        "y": {"datum": -33.3, "type": "quantitative", "scale": {"domain": [-100, 100]}, "axis": null}
      }
    },
    {
      "data": {"values": [{}]},
      "mark": {"type": "rule", "color": "#c0c0c0", "strokeWidth": 4},
      "encoding": {
        "x": {"datum": 50, "type": "quantitative", "scale": {"domain": [-10, 70]}, "axis": null},
        "y": {"datum": -34.8, "type": "quantitative", "scale": {"domain": [-100, 100]}, "axis": null},
        "y2": {"datum": -31.8}
      }
    },
    {
      "data": {"values": [{}]},
      "mark": {"type": "rule", "color": "#c0c0c0", "strokeWidth": 4},
      "encoding": {
        "x": {"datum": 60, "type": "quantitative", "scale": {"domain": [-10, 70]}, "axis": null},
        "y": {"datum": -34.8, "type": "quantitative", "scale": {"domain": [-100, 100]}, "axis": null},
        "y2": {"datum": -31.8}
      }
    },
    {
      "data": {"values": [{}]},
      "mark": {"type": "text", "fontSize": 23.5, "angle": 270, "align": "center", "baseline": "middle"},
      "encoding": {
        "x": {"datum": -5.37, "type": "quantitative", "scale": {"domain": [-10, 70]}, "axis": null},
        "y": {"datum": 0.25, "type": "quantitative", "scale": {"domain": [-100, 100]}, "axis": null},
        "text": {"value": "Typical noise level"}
      }
    },
    {
      "data": {"values": [{}]},
      "mark": {"type": "text", "fontSize": 23.5, "angle": 270, "align": "center", "baseline": "middle"},
      "encoding": {
        "x": {"datum": 65.0, "type": "quantitative", "scale": {"domain": [-10, 70]}, "axis": null},
        "y": {"datum": 50.2, "type": "quantitative", "scale": {"domain": [-100, 100]}, "axis": null},
        "text": {"value": "1 DIV = 0.5 hPa/h"}
      }
    },
    {
      "data": {"values": [{}]},
      "mark": {"type": "text", "fontSize": 23.5, "angle": 270, "align": "center", "baseline": "middle"},
      "encoding": {
        "x": {"datum": 67.6, "type": "quantitative", "scale": {"domain": [-10, 70]}, "axis": null},
        "y": {"datum": 49.9, "type": "quantitative", "scale": {"domain": [-100, 100]}, "axis": null},
        "text": {"value": "average = -0.0394"}
      }
    },
    {
      "data": {"values": [{}]},
      "mark": {"type": "text", "fontSize": 27.8, "fontWeight": "bold", "align": "left", "baseline": "alphabetic"},
      "encoding": {
        "x": {"datum": -8.17, "type": "quantitative", "scale": {"domain": [-10, 70]}, "axis": null},
        "y": {"datum": -96.1, "type": "quantitative", "scale": {"domain": [-100, 100]}, "axis": null},
        "text": {"value": "The latest 1-hour, 1-second sampling"}
      }
    },
    {
      "data": {"values": [{}]},
      "mark": {"type": "text", "fontSize": 27.8, "fontWeight": "bold", "align": "right", "baseline": "alphabetic"},
      "encoding": {
        "x": {"datum": 68.1, "type": "quantitative", "scale": {"domain": [-10, 70]}, "axis": null},
        "y": {"datum": -96.1, "type": "quantitative", "scale": {"domain": [-100, 100]}, "axis": null},
        "text": {"value": "End at 2026-08-18 11:00:59 UTC"}
      }
    },
    {
      "data": {"name": "pres"},
      "mark": {"type": "line", "strokeWidth": 5.5, "strokeJoin": "round"},
      "encoding": {
        "x": {
          "field": "t", "type": "quantitative", "scale": {"domain": [-10, 70]},
          "axis": {
            "orient": "top",
            "values": [-10,-9,-8,-7,-6,-5,-4,-3,-2,-1,0,1,2,3,4,5,6,7,8,9,10,11,12,13,14,15,16,17,18,19,20,21,22,23,24,25,26,27,28,29,30,31,32,33,34,35,36,37,38,39,40,41,42,43,44,45,46,47,48,49,50,51,52,53,54,55,56,57,58,59,60,61,62,63,64,65,66,67,68,69,70],
            "tickSize": {"condition": {"test": "datum.value % 10 === 0", "value": 10}, "value": 5},
            "labels": false,
            "title": "SCG_054 gravimeter Onsala Space Observatory, Sweden",
            "titleFontSize": 32.2,
            "titleFontWeight": "bold",
            "titleAngle": 0,
            "titleAlign": "right",
            "titleBaseline": "alphabetic",
            "titleX": 1266,
            "titleY": -28.5
          }
        },
        "y": {
          "field": "p", "type": "quantitative", "scale": {"domain": [1002, 1005]},
          "axis": {
            "orient": "right",
            "values": [1002, 1002.25, 1002.5, 1002.75, 1003, 1003.25, 1003.5, 1003.75, 1004, 1004.25, 1004.5, 1004.75, 1005],
            "tickSize": 10,
            "labelPadding": 12,
            "labelExpr": "datum.value > 1003.7 && datum.value < 1004.8 ? format(datum.value, '.2f') : ''",
            "title": "Pressure [hPa]",
            "titleAngle": 270,
            "titleX": 169,
            "titleY": 198,
            "titleAlign": "center",
            "titleBaseline": "middle"
          }
        },
        "color": {"datum": "Pressure", "type": "nominal", "legend": null}
      }
    },
    {
      "data": {"values": [{}]},
      "mark": {"type": "rule", "color": "#5fbfbf", "strokeWidth": 2},
      "encoding": {
        "x": {"datum": 0, "type": "quantitative", "scale": {"domain": [-10, 70]}, "axis": null},
        "x2": {"datum": 64},
        "y": {
          "datum": 0, "type": "quantitative", "scale": {"domain": [-2.5, 2.5], "range": [396, 0]},
          "axis": {
            "orient": "right",
            "offset": -113.4,
            "values": [-2.5, -2, -1.5, -1, -0.5, 0, 0.5, 1, 1.5, 2, 2.5],
            "tickSize": 8,
            "labels": false,
            "title": null,
            "domainColor": "#5fbfbf",
            "domainWidth": 1.5,
            "tickColor": "#5fbfbf",
            "tickWidth": 1.5
          }
        }
      }
    },
    {
      "data": {"values": [{}]},
      "mark": {"type": "rule", "color": "#5fbfbf", "strokeWidth": 2},
      "encoding": {
        "x": {"datum": 62, "type": "quantitative", "scale": {"domain": [-10, 70]}, "axis": null},
        "x2": {"datum": 64},
        "y": {"datum": 2.5, "type": "quantitative", "scale": {"domain": [-2.5, 2.5], "range": [396, 0]}, "axis": null}
      }
    },
    {
      "data": {"values": [{}]},
      "mark": {"type": "rule", "color": "#5fbfbf", "strokeWidth": 2},
      "encoding": {
        "x": {"datum": 62, "type": "quantitative", "scale": {"domain": [-10, 70]}, "axis": null},
        "x2": {"datum": 64},
        "y": {"datum": -2.5, "type": "quantitative", "scale": {"domain": [-2.5, 2.5], "range": [396, 0]}, "axis": null}
      }
    },
    {
      "data": {"name": "dpdt"},
      "mark": {"type": "line", "strokeWidth": 2.5, "interpolate": "monotone"},
      "encoding": {
        "x": {"field": "t", "type": "quantitative", "scale": {"domain": [-10, 70]}, "axis": null},
        "y": {"field": "d", "type": "quantitative", "scale": {"domain": [-2.5, 2.5], "range": [396, 0]}, "axis": null},
        "color": {"datum": "dP/dt low-passed", "type": "nominal", "legend": null}
      }
    },
    {
      "data": {"name": "tide"},
      "mark": {"type": "line", "strokeWidth": 4},
      "encoding": {
        "x": {"field": "t", "type": "quantitative", "scale": {"domain": [-10, 70]}, "axis": null},
        "y": {
          "field": "tide", "type": "quantitative", "scale": {"domain": [-1500, 4500]},
          "axis": {
            "orient": "right",
            "values": [-1500,-1400,-1300,-1200,-1100,-1000,-900,-800,-700,-600,-500,-400,-300,-200,-100,0,100,200,300,400,500,600,700,800,900,1000,1100,1200,1300,1400,1500,1600,1700,1800,1900,2000,2100,2200,2300,2400,2500,2600,2700,2800,2900,3000,3100,3200,3300,3400,3500,3600,3700,3800,3900,4000,4100,4200,4300,4400,4500],
            "tickSize": {"condition": {"test": "datum.value % 500 === 0", "value": 10}, "value": 5},
            "labelAlign": "right",
            "labelPadding": 81,
            "labelExpr": "datum.value % 500 === 0 && datum.value <= 1000 ? '' + datum.value : ''",
            "title": "Tide [nm/s²]",
            "titleAngle": 270,
            "titleX": 138,
            "titleY": 591,
            "titleAlign": "center",
            "titleBaseline": "middle"
          }
        },
        "color": {"datum": "Theor.Tide", "type": "nominal", "legend": null}
      }
    }
  ],
  "resolve": {
    "scale": {"y": "independent"},
    "axis": {"x": "independent", "y": "independent"}
  }
}
